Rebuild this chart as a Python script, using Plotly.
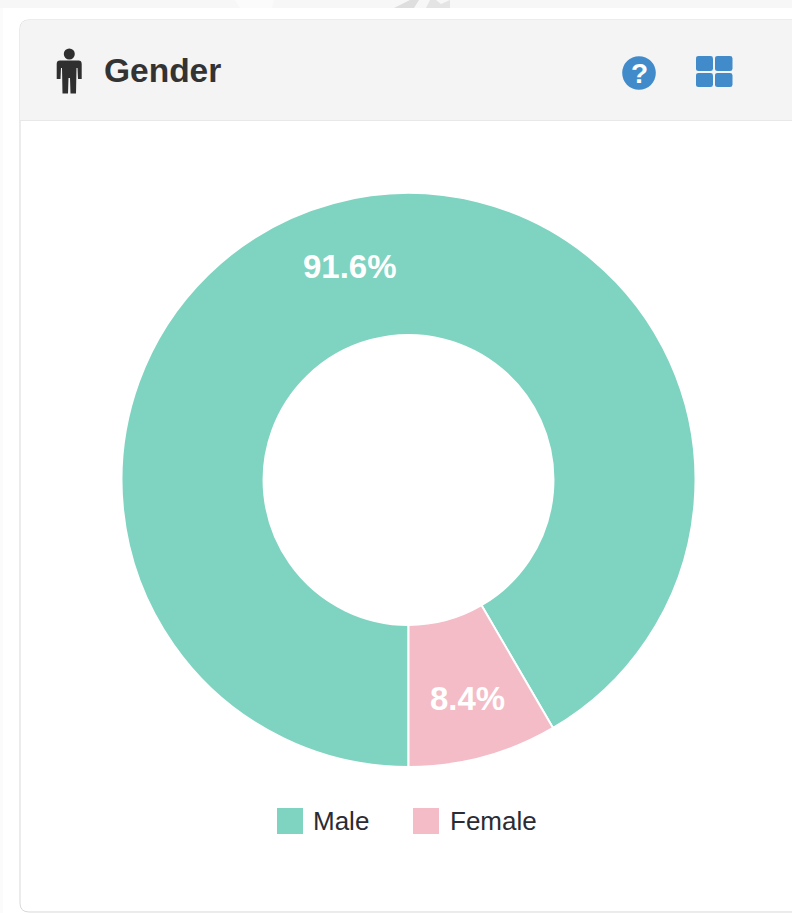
import plotly.graph_objects as go

W, H = 792, 913
categories = ["Male", "Female"]
values = [91.6, 8.4]
colors = ["#7fd3c1", "#f3bcc6"]
title = "Gender"

def X(x): return x / W
def Y(y): return 1 - y / H

def path(cmds):
    out = []
    for c in cmds:
        if isinstance(c, str):
            out.append(c)
        else:
            out.append(f"{X(c[0]):.5f},{Y(c[1]):.5f}")
    return " ".join(out)

def shape_path(cmds, fill, line=None, lw=0):
    return dict(type="path", xref="paper", yref="paper", path=path(cmds), fillcolor=fill,
                line=dict(color=line or fill, width=lw), layer="below")

def rrect(x0, y0, x1, y1, r, fill, line=None, lw=0):
    return shape_path(["M", (x0 + r, y0), "L", (x1 - r, y0), "Q", (x1, y0), (x1, y0 + r),
                       "L", (x1, y1 - r), "Q", (x1, y1), (x1 - r, y1),
                       "L", (x0 + r, y1), "Q", (x0, y1), (x0, y1 - r),
                       "L", (x0, y0 + r), "Q", (x0, y0), (x0 + r, y0), "Z"], fill, line, lw)

def rect(x0, y0, x1, y1, fill):
    return dict(type="rect", xref="paper", yref="paper", x0=X(x0), x1=X(x1), y0=Y(y0), y1=Y(y1),
                fillcolor=fill, line=dict(width=0), layer="below")

def circle(cx, cy, r, fill):
    return dict(type="circle", xref="paper", yref="paper", x0=X(cx - r), x1=X(cx + r),
                y0=Y(cy - r), y1=Y(cy + r), fillcolor=fill, line=dict(width=0), layer="below")

shapes = [
    rect(0, 0, W, 8, "#f7f7f7"),
    # faint remains of the image above the card
    shape_path(["M", (235, 0), "L", (274, 0), "L", (272, 8), "L", (240, 8), "Z"], "#fbfbfb"),
    shape_path(["M", (394, 8), "L", (410, 0), "L", (419, 0), "L", (414, 8), "Z"], "#dedede"),
    shape_path(["M", (426, 8), "L", (430, 0), "L", (436, 0), "L", (441, 4), "L", (450, 0), "L", (450, 8), "Z"], "#e4e4e4"),
    rect(0, 8, 3, H, "#fbfbfb"),
    rrect(20, 20, 830, 912, 9, "#ffffff", "#d9d9d9", 1),
    shape_path(["M", (20, 120), "L", (20, 29), "Q", (20, 20), (29, 20), "L", (W, 20), "L", (W, 120), "Z"], "#f4f4f4"),
    rect(20, 120, W, 121, "#e8e8e8"),
    # person icon
    circle(69.3, 54, 5.5, "#2f2f2f"),
    shape_path(["M", (60, 60.5), "L", (78.5, 60.5), "Q", (81.7, 60.5), (81.7, 64), "L", (81.7, 79), "L", (78, 79),
                "L", (77.5, 68), "L", (76.5, 68), "L", (76, 93.5), "L", (70.5, 93.5), "L", (70, 78), "L", (68.5, 78),
                "L", (68, 93.5), "L", (62.5, 93.5),
                "L", (62, 68), "L", (61, 68), "L", (60.5, 79), "L", (56.7, 79), "L", (56.7, 64), "Q", (56.7, 60.5), (60, 60.5), "Z"],
               "#2f2f2f"),
    # help icon
    circle(639, 73, 16.8, "#428bca"),
    # grid icon
    rrect(696, 56, 713, 71, 2.5, "#428bca"),
    rrect(715, 56, 732.5, 71, 2.5, "#428bca"),
    rrect(696, 73, 713, 87, 2.5, "#428bca"),
    rrect(715, 73, 732.5, 87, 2.5, "#428bca"),
    # legend swatches
    rect(277, 808, 303, 834, colors[0]),
    rect(413, 808, 439, 834, colors[1]),
]

def ann(text, x, y, size, color, bold=False, anchor="left"):
    return dict(text=f"<b>{text}</b>" if bold else text, x=X(x), y=Y(y), xref="paper", yref="paper",
                xanchor=anchor, yanchor="middle", showarrow=False,
                font=dict(family="Liberation Sans, Arial, sans-serif", size=size, color=color))

annotations = [
    ann(title, 102, 70.5, 33.5, "#333333", True),
    ann("?", 639, 73, 28, "#ffffff", True, "center"),
    ann(categories[0], 311, 821, 26, "#2b2b33"),
    ann(categories[1], 448, 821, 26, "#2b2b33"),
    ann(f"{values[0]:.1f}%", 350, 267, 33, "#ffffff", True, "center"),
    ann(f"{values[1]:.1f}%", 467, 698, 33, "#ffffff", True, "center"),
]

fig = go.Figure(go.Pie(
    labels=categories, values=values, sort=False, direction="clockwise", rotation=180,
    hole=0.505, marker=dict(colors=colors, line=dict(color="#ffffff", width=2)),
    textinfo="none",
    showlegend=False,
    domain=dict(x=[X(121.5), X(695.5)], y=[Y(767), Y(193)]),
))
fig.update_layout(width=W, height=H, autosize=False, margin=dict(l=0, r=0, t=0, b=0, pad=0),
                  paper_bgcolor="#ffffff", plot_bgcolor="#ffffff", shapes=shapes, annotations=annotations,
                  showlegend=False)
fig.write_html("out.html", config={"displayModeBar": False},
               post_script="document.body.style.margin='0';document.body.style.overflow='hidden';")
